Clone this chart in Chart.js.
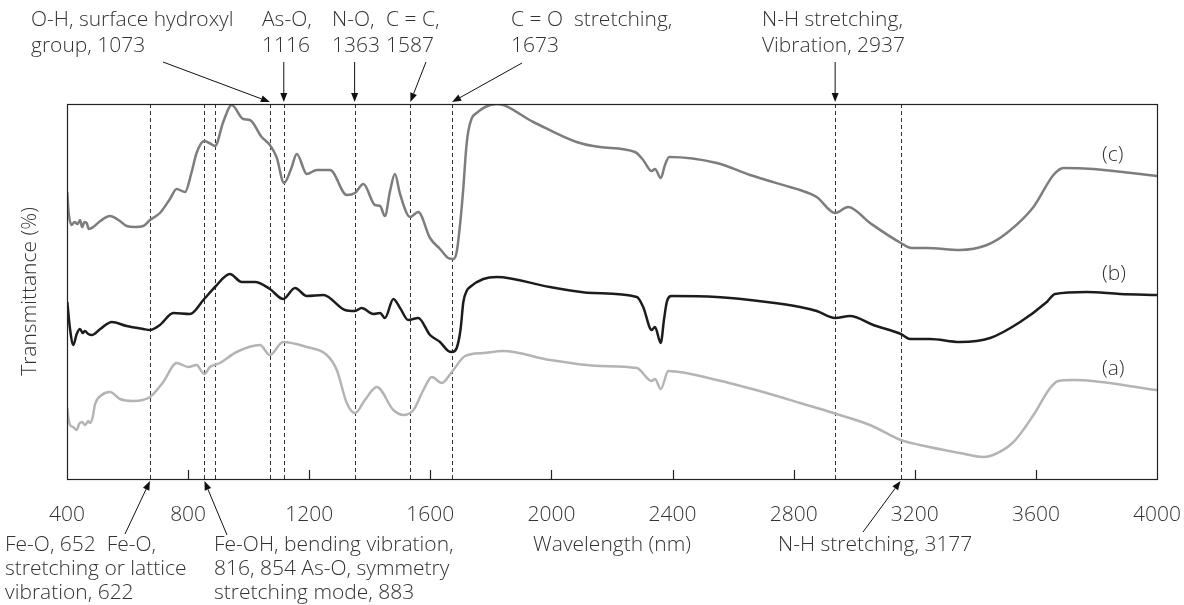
<!DOCTYPE html>
<html>
<head>
<meta charset="utf-8">
<script src="https://cdn.jsdelivr.net/npm/chart.js@4/dist/chart.umd.min.js"></script>
<style>
  html, body { margin: 0; padding: 0; background: #fff; }
</style>
</head>
<body>
<canvas id="ftir" width="1184" height="605"></canvas>
<script>
// wavelength (nm) and transmittance (arbitrary, each sample offset)
const xA = [401, 405, 410, 420, 432, 440, 449, 460, 470, 476, 485, 492, 515, 542, 575, 619, 674, 718, 762, 801,
            828, 853, 872, 905, 960, 1037, 1070, 1114, 1192, 1258, 1291, 1324, 1351, 1384, 1423, 1478, 1511, 1544, 1577, 1605,
            1638, 1671, 1715, 1775, 1841, 1995, 2160, 2282, 2331, 2342, 2361, 2386, 2546, 2711, 2821, 2931, 3052, 3154, 3217, 3349,
            3426, 3459, 3526, 3592, 3647, 3674, 3723, 4000];
const yA = [71, 60, 54, 52, 49, 55, 57, 54, 58, 56, 62, 74, 84, 87, 80, 78, 82, 97, 116, 112,
            114, 105, 112, 116, 127, 134, 124, 137, 132, 124, 109, 76, 66, 79, 92, 69, 64, 69, 89, 102,
            96, 107, 123, 126, 128, 119, 113, 111, 98, 100, 90, 108, 99, 86, 76, 66, 54, 39, 34, 26,
            22, 24, 37, 64, 91, 98, 99, 89];

const xB = [401, 410, 421, 432, 443, 452, 459, 470, 482, 510, 548, 597, 652, 674, 707, 751, 806, 853, 889, 938,
            977, 1021, 1070, 1114, 1153, 1192, 1247, 1318, 1351, 1373, 1412, 1434, 1450, 1478, 1500, 1527, 1560, 1599, 1632, 1659,
            1672, 1687, 1700, 1709, 1720, 1731, 1775, 1819, 1995, 2138, 2282, 2303, 2331, 2342, 2361, 2372, 2381, 2397, 2546, 2711,
            2821, 2876, 2937, 2986, 3063, 3154, 3184, 3250, 3349, 3449, 3548, 3636, 3663, 3768, 3878, 4000];
const yB = [177, 150, 134, 145, 150, 146, 148, 145, 144, 150, 157, 153, 150, 149, 154, 166, 165, 180, 192, 205,
            197, 197, 190, 180, 191, 183, 184, 169, 168, 171, 165, 166, 161, 180, 171, 159, 161, 144, 137, 128,
            127, 131, 150, 177, 188, 192, 200, 202, 192, 186, 182, 172, 149, 152, 136, 160, 177, 183, 182, 177,
            172, 168, 161, 163, 154, 145, 140, 140, 137, 141, 157, 177, 185, 187, 185, 184];

const xC = [401, 405, 415, 425, 435, 443, 450, 458, 465, 472, 487, 510, 542, 570, 597, 625, 652, 674, 707, 740,
            762, 790, 810, 828, 853, 870, 889, 916, 944, 982, 1004, 1043, 1070, 1092, 1117, 1140, 1159, 1192, 1225, 1269,
            1324, 1351, 1379, 1417, 1434, 1450, 1467, 1483, 1500, 1533, 1560, 1599, 1632, 1659, 1676, 1687, 1698, 1709, 1718, 1725,
            1737, 1753, 1781, 1819, 1940, 2083, 2160, 2276, 2303, 2331, 2342, 2361, 2375, 2389, 2546, 2656, 2788, 2821, 2876, 2937,
            2980, 3052, 3154, 3190, 3239, 3349, 3438, 3504, 3592, 3658, 3691, 3790, 4000];
const yC = [287, 268, 254, 257, 255, 259, 252, 257, 256, 250, 252, 258, 263, 259, 253, 252, 253, 259, 266, 280,
            290, 287, 305, 326, 338, 336, 333, 357, 374, 360, 359, 342, 334, 322, 296, 310, 325, 305, 309, 309,
            284, 286, 295, 274, 273, 263, 288, 305, 285, 262, 267, 241, 230, 221, 220, 227, 254, 291, 329, 347,
            361, 366, 372, 375, 357, 337, 332, 327, 319, 308, 310, 301, 314, 322, 316, 304, 292, 289, 282, 266,
            272, 256, 236, 231, 231, 229, 234, 246, 272, 304, 311, 310, 303];

const seriesNames = ['(a)', '(b)', '(c)'];
// band positions (nm) where the dashed guide lines sit
const bandLines = [674, 854, 890, 1070, 1116, 1350, 1534, 1672, 2937, 3153];

const topNotes = [
    { lines: ['O-H, surface hydroxyl', 'group, 1073'], tx: 31, band: 1070, from: [163, 62] },
    { lines: ['As-O,', '1116'], tx: 262, band: 1116, from: null },
    { lines: ['N-O,', '1363'], tx: 332, band: 1350, from: null },
    { lines: ['C = C,', '1587'], tx: 386, band: 1534, from: [426, 62] },
    { lines: ['C = O  stretching,', '1673'], tx: 511, band: 1672, from: [522, 63] },
    { lines: ['N-H stretching,', 'Vibration, 2937'], tx: 762, band: 2937, from: null }
];
const bottomNotes = [
    { lines: ['Fe-O, 652  Fe-O,', 'stretching or lattice', 'vibration, 622'], tx: 5, band: 674, from: [125, 534] },
    { lines: ['Fe-OH, bending vibration,', '816, 854 As-O, symmetry', 'stretching mode, 883'], tx: 214, band: 854, from: [227, 535] },
    { lines: ['N-H stretching, 3177'], tx: 778, band: 3153, from: [863, 532] }
];

const FONT = '"Open Sans", "DejaVu Sans", sans-serif';
const TEXT = '#333';
const SIZE = 21;

function pts(xs, ys) {
    return xs.map((x, i) => ({ x: x, y: ys[i] }));
}

function arrow(ctx, x0, y0, x1, y1) {
    const ang = Math.atan2(y1 - y0, x1 - x0);
    const len = 9, half = 3.5;
    const bx = x1 - len * Math.cos(ang), by = y1 - len * Math.sin(ang);
    ctx.beginPath();
    ctx.moveTo(x0, y0);
    ctx.lineTo(bx, by);
    ctx.stroke();
    ctx.beginPath();
    ctx.moveTo(x1, y1);
    ctx.lineTo(bx + half * Math.sin(ang), by - half * Math.cos(ang));
    ctx.lineTo(bx - half * Math.sin(ang), by + half * Math.cos(ang));
    ctx.closePath();
    ctx.fill();
}

const guides = {
    id: 'guides',
    beforeDatasetsDraw(chart) {
        const { ctx, chartArea: a, scales: { x } } = chart;
        ctx.save();
        ctx.strokeStyle = '#333';
        ctx.lineWidth = 1;
        ctx.setLineDash([4, 3]);
        bandLines.forEach(b => {
            const px = Math.round(x.getPixelForValue(b)) + 0.5;
            ctx.beginPath();
            ctx.moveTo(px, a.top);
            ctx.lineTo(px, a.bottom);
            ctx.stroke();
        });
        ctx.restore();
    },
    afterDatasetsDraw(chart) {
        const { ctx, chartArea: a, scales: { x, y } } = chart;
        ctx.save();
        // frame
        ctx.strokeStyle = '#222';
        ctx.lineWidth = 1.2;
        ctx.strokeRect(a.left + 0.5, a.top + 0.5, a.right - a.left, a.bottom - a.top);
        // inner tick marks
        ctx.beginPath();
        for (let v = 800; v < 4000; v += 400) {
            const px = Math.round(x.getPixelForValue(v)) + 0.5;
            ctx.moveTo(px, a.bottom);
            ctx.lineTo(px, a.bottom - 9);
        }
        ctx.stroke();

        ctx.font = '300 ' + SIZE + 'px ' + FONT;
        ctx.fillStyle = TEXT;
        ctx.textBaseline = 'alphabetic';
        ctx.textAlign = 'left';

        // series labels at right
        const lastY = [yA[yA.length - 1], yB[yB.length - 1], yC[yC.length - 1]];
        seriesNames.forEach((s, i) => {
            ctx.fillText(s, 1102, y.getPixelForValue(lastY[i]) - 15);
        });

        ctx.strokeStyle = '#111';
        ctx.lineWidth = 1;
        topNotes.forEach(n => {
            ctx.fillStyle = TEXT;
            n.lines.forEach((t, i) => ctx.fillText(t, n.tx, 26 + i * 26));
            ctx.fillStyle = '#111';
            const tipX = x.getPixelForValue(n.band);
            const from = n.from || [tipX, 62];
            arrow(ctx, from[0], from[1], tipX, a.top - 2);
        });
        bottomNotes.forEach(n => {
            ctx.fillStyle = TEXT;
            n.lines.forEach((t, i) => ctx.fillText(t, n.tx, 551 + i * 24));
            ctx.fillStyle = '#111';
            const tipX = x.getPixelForValue(n.band);
            arrow(ctx, n.from[0], n.from[1], tipX, a.bottom + 2);
        });
        ctx.restore();
    }
};

const lineStyle = { fill: false, pointRadius: 0, borderWidth: 2.5, cubicInterpolationMode: 'monotone' };

new Chart(document.getElementById('ftir'), {
    type: 'line',
    data: {
        datasets: [
            Object.assign({ label: seriesNames[0], data: pts(xA, yA), borderColor: '#b4b4b4' }, lineStyle),
            Object.assign({ label: seriesNames[1], data: pts(xB, yB), borderColor: '#1c1c1c' }, lineStyle),
            Object.assign({ label: seriesNames[2], data: pts(xC, yC), borderColor: '#7d7d7d' }, lineStyle)
        ]
    },
    options: {
        responsive: false,
        animation: false,
        devicePixelRatio: 1,
        layout: { padding: { top: 104, right: 27, left: 0, bottom: 0 } },
        plugins: { legend: { display: false }, tooltip: { enabled: false } },
        scales: {
            x: {
                type: 'linear',
                min: 400,
                max: 4000,
                grid: { display: false, drawTicks: false },
                border: { display: false },
                ticks: {
                    stepSize: 400, padding: 23, color: TEXT, maxRotation: 0,
                    font: { family: FONT, size: SIZE, weight: 300 },
                    callback: v => String(v)
                },
                title: { display: true, text: 'Wavelength (nm)', color: TEXT, font: { family: FONT, size: SIZE, weight: 300 }, padding: { bottom: 47 } },
                afterFit: s => { s.height = 126; s.paddingLeft = 0; s.paddingRight = 0; }
            },
            y: {
                min: 0,
                max: 375,
                grid: { display: false, drawTicks: false },
                border: { display: false },
                ticks: { display: false },
                title: { display: true, text: 'Transmittance (%)', color: TEXT, font: { family: FONT, size: SIZE, weight: 300 }, padding: { top: 17 } },
                afterFit: s => { s.width = 67; }
            }
        }
    },
    plugins: [guides]
});
</script>
</body>
</html>
